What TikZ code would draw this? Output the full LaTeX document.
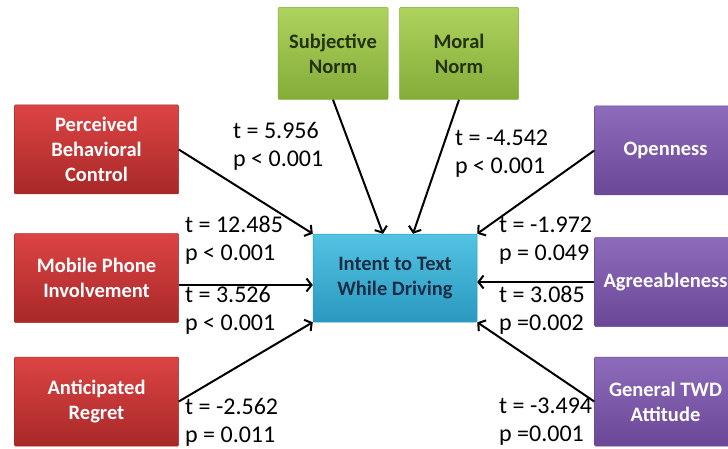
\documentclass[tikz,border=0pt]{standalone}
\usepackage{fontspec}
\setmainfont{Carlito}
\usetikzlibrary{arrows.meta, positioning}
\definecolor{factorred}{HTML}{DC4444}
\definecolor{factorreddark}{HTML}{A92828}
\definecolor{normgreen}{HTML}{AED25E}
\definecolor{normgreendark}{HTML}{84AC38}
\definecolor{traitpurple}{HTML}{8E6CBC}
\definecolor{traitpurpledark}{HTML}{6A4896}
\definecolor{intentblue}{HTML}{52C4E2}
\definecolor{intentbluedark}{HTML}{2A98C0}
\definecolor{textnavy}{HTML}{1B2D45}
\definecolor{textgreen}{HTML}{24310E}

\begin{document}
\begin{tikzpicture}[x=1pt, y=-1pt,
    % ── Node styles ──────────────────────────────────────────────────────
    base/.style={
        draw, rounded corners=1pt, align=center, inner sep=4pt,
        font=\fontsize{20.5}{25}\selectfont\bfseries,
        line width=0.5pt
    },
    redbox/.style={
        base, top color=factorred, bottom color=factorreddark,
        draw=factorreddark, text=white,
        minimum width=164pt, minimum height=89pt
    },
    purplebox/.style={
        base, top color=traitpurple, bottom color=traitpurpledark,
        draw=traitpurpledark, text=white,
        minimum width=142pt, minimum height=89pt
    },
    greenbox/.style={
        base, top color=normgreen, bottom color=normgreendark,
        draw=normgreendark, text=textgreen,
        minimum height=92pt
    },
    intentbox/.style={
        base, top color=intentblue, bottom color=intentbluedark,
        draw=intentbluedark, text=textnavy,
        minimum width=164pt, minimum height=88pt
    },
    stat/.style={
        font=\fontsize{24}{28}\selectfont, text=black,
        align=left, inner sep=0pt, anchor=west
    },
    % ── Arrow style ──────────────────────────────────────────────────────
    arr/.style={
        -{Straight Barb[length=5pt, width=13pt]},
        line width=2pt, color=black
    }
]
\useasboundingbox (0,0) rectangle (728,449);

% ═══════════════════════════════════════════════════════════════════════════
% 1. Intent in the middle
% ═══════════════════════════════════════════════════════════════════════════
\node[intentbox] (intent) at (395,278) {Intent to Text\\While Driving};

% ═══════════════════════════════════════════════════════════════════════════
% 2. Left column
% ═══════════════════════════════════════════════════════════════════════════
\node[redbox, left=134pt of intent] (mobile) {Mobile Phone\\Involvement};
\node[redbox, above=39pt of mobile] (pbc) {Perceived\\Behavioral\\Control};
\node[redbox, below=34pt of mobile] (regret) {Anticipated\\Regret};

% ═══════════════════════════════════════════════════════════════════════════
% 3. Norms on top
% ═══════════════════════════════════════════════════════════════════════════
\node[greenbox, minimum width=110pt, above=134pt of intent, xshift=-62pt]
    (subjnorm) {Subjective\\Norm};
\node[greenbox, minimum width=119pt, above=134pt of intent, xshift=64pt]
    (moralnorm) {Moral\\Norm};

% ═══════════════════════════════════════════════════════════════════════════
% 4. Right column
% ═══════════════════════════════════════════════════════════════════════════
\node[purplebox, right=117pt of intent, yshift=-4pt] (agree) {Agreeableness};
\node[purplebox, above=42pt of agree] (openness) {Openness};
\node[purplebox, below=30pt of agree] (twd) {General TWD\\Attitude};

% Arrows: factors → intent
\draw[arr] (pbc.east) -- (intent.north west);
\draw[arr] ([yshift=-7pt]mobile.east) -- ([yshift=-7pt]mobile.east -| intent.west);
\draw[arr] (regret.east) -- (intent.south west);
\draw[arr] (subjnorm.south) -- ([xshift=-12pt]intent.north);
\draw[arr] (moralnorm.south) -- ([xshift=18pt]intent.north);
\draw[arr] (openness.west) -- (intent.north east);
\draw[arr] (agree.west) -- (agree.west -| intent.east);
\draw[arr] (twd.west) -- (intent.south east);

% ═══════════════════════════════════════════════════════════════════════════
% 5. Path statistics
% ═══════════════════════════════════════════════════════════════════════════
\node[stat] (spbc) at (185,240) {t = 12.485\\p < 0.001};
\node[stat] (smobile) at (185,310) {t = 3.526\\p < 0.001};
\node[stat] (sregret) at (185,422) {t = -2.562\\p = 0.011};
\node[stat] (ssubj) at (233,146) {t = 5.956\\p < 0.001};
\node[stat] (smoral) at (455,154) {t = -4.542\\p < 0.001};
\node[stat] (sopen) at (499,241) {t = -1.972\\p = 0.049};
\node[stat] (sagree) at (499,310) {t = 3.085\\p =0.002};
\node[stat] (stwd) at (499,422) {t = -3.494\\p =0.001};

\end{tikzpicture}
\end{document}
